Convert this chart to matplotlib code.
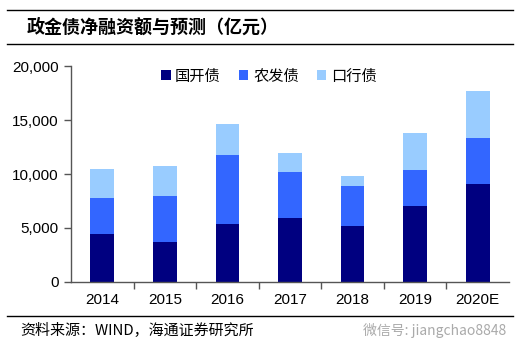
import numpy as np
import matplotlib.pyplot as plt
from matplotlib.lines import Line2D
from matplotlib.ticker import FuncFormatter

plt.rcParams["font.family"] = ["Liberation Sans", "Noto Sans CJK SC", "DejaVu Sans"]

years = ["2014", "2015", "2016", "2017", "2018", "2019", "2020E"]
cdb = [4460, 3660, 5390, 5890, 5180, 7060, 9110]      # 国开债
adbc = [3350, 4330, 6410, 4280, 3690, 3350, 4270]     # 农发债
eximb = [2640, 2730, 2860, 1760, 950, 3440, 4340]     # 口行债
series_names = ["国开债", "农发债", "口行债"]
colors = ["#000080", "#3366FF", "#99CCFF"]

W, H = 526, 355
fig = plt.figure(figsize=(W / 100, H / 100), dpi=100)
ax = fig.add_axes([71 / W, (H - 281.7) / H, 438 / W, 215.2 / H])

x_pos = np.arange(len(years))
bottom = np.zeros(len(years))
for name, values, color in zip(series_names, [cdb, adbc, eximb], colors):
    ax.bar(x_pos, values, width=0.38, bottom=bottom, color=color,
           label=name, edgecolor="none")
    bottom += np.array(values)

ax.set_xlim(-0.5, len(years) - 0.5)
ax.set_ylim(0, 20000)
ax.set_yticks(np.arange(0, 20001, 5000))
ax.yaxis.set_major_formatter(FuncFormatter(lambda v, p: f"{int(v):,}"))
ax.set_xticks(x_pos)
ax.set_xticklabels(years)
ax.set_xticks(np.arange(0.5, len(years) - 1, 1.0), minor=True)
ax.tick_params(axis="x", which="major", length=0, pad=8, labelsize=11)
ax.tick_params(axis="x", which="minor", length=5, width=1, color="#555555")
ax.tick_params(axis="y", length=5, width=1, color="#555555", labelsize=11, pad=4)

for side in ["top", "right"]:
    ax.spines[side].set_visible(False)
for side in ["left", "bottom"]:
    ax.spines[side].set_color("#555555")
    ax.spines[side].set_linewidth(1)

ax.legend(loc="center", bbox_to_anchor=(0.452, 0.955), ncol=3, frameon=False,
          handlelength=0.6, handleheight=0.6, handletextpad=0.3,
          columnspacing=1.2, prop={"family": "Noto Sans CJK SC", "size": 11})

# header and footer
fig.add_artist(Line2D([7 / W, 513 / W], [1 - 10 / H] * 2, color="black", lw=1))
fig.add_artist(Line2D([7 / W, 513 / W], [1 - 43.7 / H] * 2, color="black", lw=1))
fig.add_artist(Line2D([7 / W, 513 / W], [1 - 315.7 / H] * 2, color="black", lw=1))
fig.text(27 / W, 1 - 27 / H, "政金债净融资额与预测（亿元）", fontsize=13,
         fontweight="bold", family=["Noto Sans CJK SC"], va="center")
fig.text(20 / W, 1 - 331 / H, "资料来源：WIND，海通证券研究所", fontsize=10.8,
         family=["Noto Sans CJK SC"], va="center")
fig.text(506 / W, 1 - 331 / H, "微信号: jiangchao8848", fontsize=10,
         family=["Noto Sans CJK SC"], color="#AAAAAA", va="center", ha="right")

fig.savefig("out.png", dpi=100)
